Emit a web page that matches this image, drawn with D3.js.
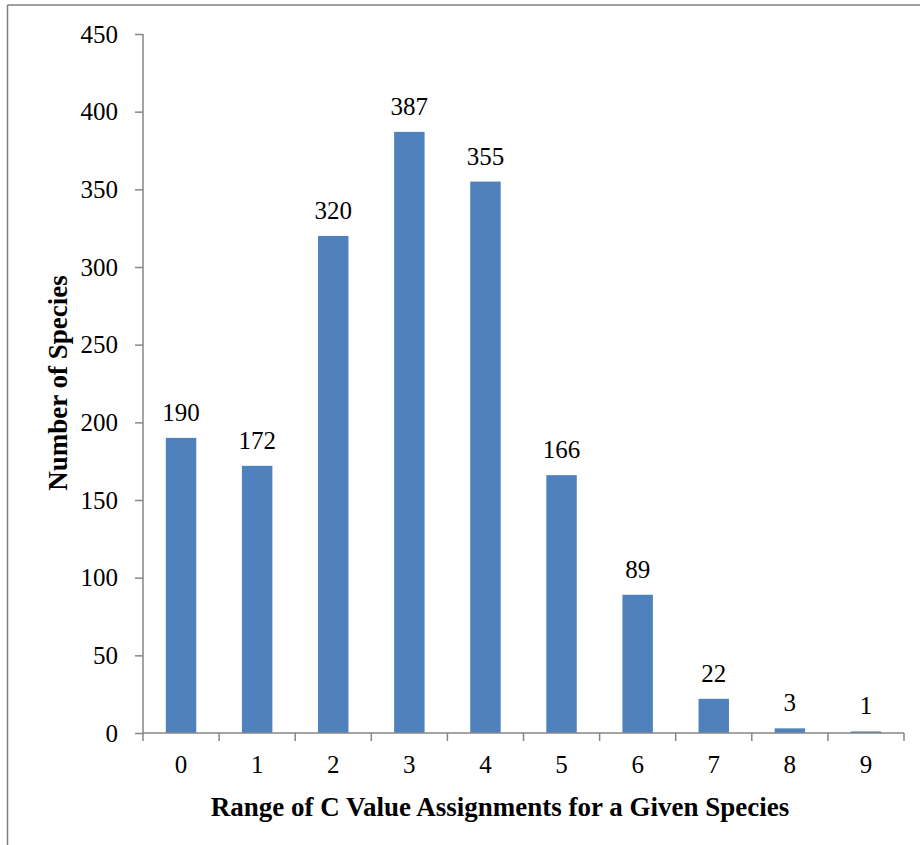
<!DOCTYPE html>
<html><head><meta charset="utf-8">
<script src="https://cdn.jsdelivr.net/npm/d3@7"></script>
<style>body{margin:0;background:#fff}svg{display:block}</style>
</head><body>
<svg id="c" width="920" height="845"></svg>
<script>
const categories = ["0","1","2","3","4","5","6","7","8","9"];
const values = [190,172,320,387,355,166,89,22,3,1];
const yTicks = [0,50,100,150,200,250,300,350,400,450];
const xTitle = "Range of C Value Assignments for a Given Species";
const yTitle = "Number of Species";

const svg = d3.select("#c");
const font = "Liberation Serif, Times New Roman, serif";
const axisColor = "#868686";

// frame
svg.append("line").attr("x1",7.5).attr("x2",920).attr("y1",5).attr("y2",5).attr("stroke","#808080").attr("stroke-width",1.5);
svg.append("line").attr("x1",7.5).attr("x2",7.5).attr("y1",5).attr("y2",845).attr("stroke","#808080").attr("stroke-width",1.5);

const m = {left:143, right:904, top:34, bottom:733};
const x = d3.scaleBand().domain(categories).range([m.left,m.right]).paddingInner(0.6).paddingOuter(0.3);
const xb = d3.scaleBand().domain(categories).range([m.left,m.right]);
const y = d3.scaleLinear().domain([0,450]).range([m.bottom,m.top]);

// y axis
const ya = svg.append("g").attr("transform",`translate(${m.left},0)`)
  .call(d3.axisLeft(y).tickValues(yTicks).tickSize(8).tickPadding(17));
ya.attr("font-family",font).attr("font-size",25);
ya.select(".domain").attr("stroke",axisColor).attr("stroke-width",1.5).attr("d",`M0,${m.top}V${m.bottom}`);
ya.selectAll(".tick line").attr("stroke",axisColor).attr("stroke-width",1.5);
ya.selectAll(".tick text").attr("font-family",font).attr("font-size",25).attr("fill","#000");

// bars
svg.append("g").selectAll("rect").data(values).join("rect")
  .attr("x",(d,i)=>x(categories[i]))
  .attr("width",x.bandwidth())
  .attr("y",d=>y(d))
  .attr("height",d=>y(0)-y(d))
  .attr("fill","#4F81BD");

// x axis
const xg = svg.append("g").attr("transform",`translate(0,${m.bottom})`);
xg.append("line").attr("x1",m.left).attr("x2",m.right).attr("stroke",axisColor).attr("stroke-width",1.5);
const bounds = categories.map(c=>xb(c)).concat([m.right]);
xg.selectAll("line.t").data(bounds).join("line").attr("class","t")
  .attr("x1",d=>d).attr("x2",d=>d).attr("y1",0).attr("y2",8)
  .attr("stroke",axisColor).attr("stroke-width",1.5);
xg.selectAll("text").data(categories).join("text")
  .attr("x",d=>xb(d)+xb.bandwidth()/2).attr("y",40)
  .attr("text-anchor","middle").attr("font-family",font).attr("font-size",25).text(d=>d);

// data labels
svg.append("g").selectAll("text").data(values).join("text")
  .attr("x",(d,i)=>x(categories[i])+x.bandwidth()/2)
  .attr("y",d=>y(d)-17)
  .attr("text-anchor","middle").attr("font-family",font).attr("font-size",25).text(d=>d);

// titles
svg.append("text").attr("x",500).attr("y",816).attr("text-anchor","middle")
  .attr("font-family",font).attr("font-weight","bold").attr("font-size",27).text(xTitle);
svg.append("text").attr("transform","translate(67,383) rotate(-90)").attr("text-anchor","middle")
  .attr("font-family",font).attr("font-weight","bold").attr("font-size",27).text(yTitle);
</script>
</body></html>
